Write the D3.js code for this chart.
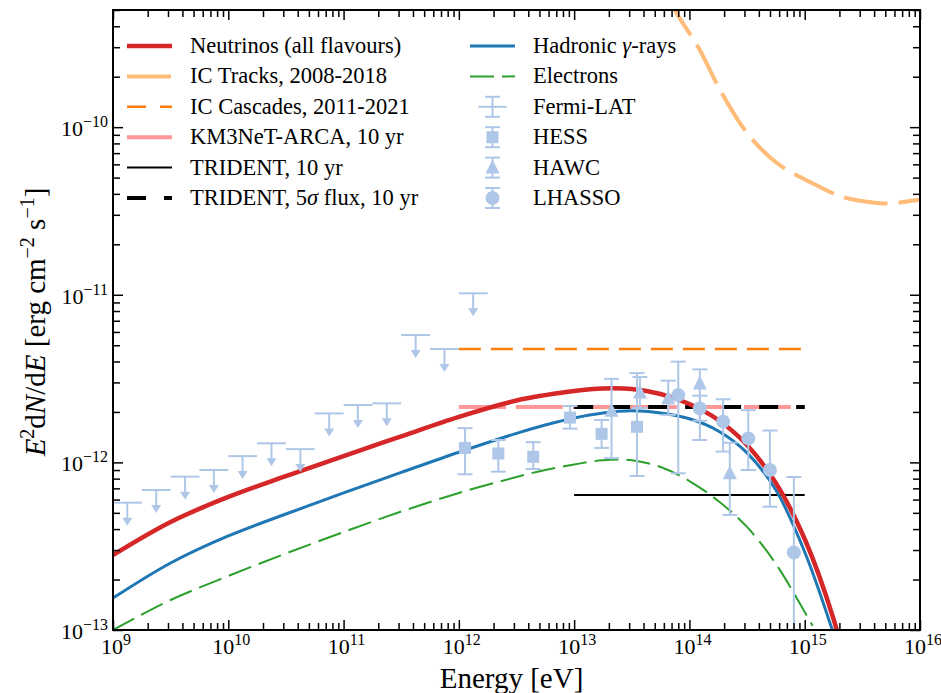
<!DOCTYPE html>
<html>
<head>
<meta charset="utf-8">
<script src="https://cdn.jsdelivr.net/npm/d3@7"></script>
<style>
  body { margin: 0; background: #fff; }
  text { font-family: "Liberation Serif", "DejaVu Serif", serif; fill: #000; }
</style>
</head>
<body>
<svg id="chart" width="941" height="693"></svg>
<script>
// ---------- model spectra (E in eV, E^2 dN/dE in erg cm^-2 s^-1) ----------
const neutrinoE = [1e9, 3.16e9, 1e10, 3.16e10, 1e11, 3.16e11, 1e12, 3.16e12, 5.62e12, 1e13, 1.78e13, 3.16e13, 5.62e13, 1e14, 1.78e14, 3.16e14, 5.62e14, 1e15, 1.78e15, 2.24e15];
const neutrinoF = [2.80e-13, 4.41e-13, 6.22e-13, 8.29e-13, 1.09e-12, 1.43e-12, 1.87e-12, 2.34e-12, 2.52e-12, 2.67e-12, 2.76e-12, 2.74e-12, 2.56e-12, 2.23e-12, 1.79e-12, 1.27e-12, 7.54e-13, 3.49e-13, 1.16e-13, 6.3e-14];

const hadronicE = [1e9, 3.16e9, 1e10, 3.16e10, 1e11, 3.16e11, 1e12, 3.16e12, 5.62e12, 1e13, 1.78e13, 3.16e13, 5.62e13, 1e14, 1.78e14, 3.16e14, 5.62e14, 1e15, 1.78e15, 2.24e15];
const hadronicF = [1.55e-13, 2.51e-13, 3.64e-13, 4.92e-13, 6.57e-13, 8.71e-13, 1.15e-12, 1.49e-12, 1.67e-12, 1.84e-12, 1.97e-12, 2.03e-12, 1.97e-12, 1.82e-12, 1.54e-12, 1.14e-12, 6.84e-13, 2.92e-13, 9.46e-14, 5.6e-14];

const electronE = [1e9, 3.16e9, 1e10, 3.16e10, 1e11, 3.16e11, 1e12, 3.16e12, 5.62e12, 1e13, 1.78e13, 3.16e13, 5.62e13, 1e14, 1.78e14, 3.16e14, 5.62e14, 1e15, 1.17e15];
const electronF = [1.0e-13, 1.51e-13, 2.10e-13, 2.86e-13, 3.84e-13, 5.09e-13, 6.57e-13, 8.18e-13, 9.01e-13, 9.72e-13, 1.03e-12, 1.03e-12, 9.39e-13, 7.74e-13, 5.88e-13, 4.12e-13, 2.48e-13, 1.28e-13, 1.06e-13];

const icTracksE = [6.8e13, 7.5e13, 1.23e14, 1.84e14, 3.16e14, 5.74e14, 1.11e15, 2.14e15, 4.23e15, 5.82e15, 9.5e15, 1e16];
const icTracksF = [6.0e-10, 5.0e-10, 2.89e-10, 1.67e-10, 9.23e-11, 6.11e-11, 4.71e-11, 3.83e-11, 3.53e-11, 3.51e-11, 3.68e-11, 3.7e-11];

// ---------- flat sensitivities / limits ----------
const icCascades = { Emin: 1e12, Emax: 1e15, F: 4.75e-12 };
const km3net     = { Emin: 1e12, Emax: 1e15, F: 2.14e-12 };
const trident    = { Emin: 1e13, Emax: 1e15, F: 6.39e-13 };
const trident5s  = { Emin: 1e13, Emax: 1e15, F: 2.14e-12 };

// ---------- gamma-ray data ----------
const fermiE    = [1.33e9, 2.37e9, 4.22e9, 7.50e9, 1.33e10, 2.37e10, 4.22e10, 7.50e10, 1.33e11, 2.37e11, 4.22e11, 7.50e11, 1.33e12];
const fermiEmin = [1.00e9, 1.78e9, 3.16e9, 5.62e9, 1.00e10, 1.78e10, 3.16e10, 5.62e10, 1.00e11, 1.78e11, 3.16e11, 5.62e11, 1.00e12];
const fermiEmax = [1.78e9, 3.16e9, 5.62e9, 1.00e10, 1.78e10, 3.16e10, 5.62e10, 1.00e11, 1.78e11, 3.16e11, 5.62e11, 1.00e12, 1.78e12];
const fermiUL   = [5.75e-13, 6.84e-13, 8.22e-13, 9.01e-13, 1.09e-12, 1.30e-12, 1.20e-12, 1.96e-12, 2.20e-12, 2.25e-12, 5.75e-12, 4.75e-12, 1.02e-11];

const hessE  = [1.13e12, 2.20e12, 4.42e12, 9.2e12, 1.73e13, 3.51e13];
const hessF  = [1.22e-12, 1.13e-12, 1.08e-12, 1.85e-12, 1.48e-12, 1.63e-12];
const hessHi = [1.60e-12, 1.36e-12, 1.32e-12, 2.17e-12, 1.79e-12, 3.41e-12];
const hessLo = [8.49e-13, 8.80e-13, 9.13e-13, 1.59e-12, 1.22e-12, 8.30e-13];

const hawcE  = [2.11e13, 3.72e13, 6.55e13, 1.23e14, 2.24e14];
const hawcF  = [2.03e-12, 2.61e-12, 2.41e-12, 2.96e-12, 8.61e-13];
const hawcHi = [3.15e-12, 3.23e-12, 3.07e-12, 3.59e-12, 1.31e-12];
const hawcLo = [1.06e-12, 2.11e-12, 1.92e-12, 1.36e-12, 4.86e-13];

const lhaasoE  = [8.0e13, 1.23e14, 1.96e14, 3.24e14, 4.99e14, 8.05e14];
const lhaasoF  = [2.52e-12, 2.10e-12, 1.75e-12, 1.39e-12, 9.01e-13, 2.90e-13];
const lhaasoHi = [3.99e-12, 2.50e-12, 2.38e-12, 2.05e-12, 1.55e-12, 8.18e-13];
const lhaasoLo = [8.61e-13, 1.77e-12, 1.16e-12, 9.01e-13, 5.44e-13, 1e-14];

// ---------- axis ticks ----------
const xMajorExp = [9, 10, 11, 12, 13, 14, 15, 16];
const yMajorExp = [-13, -12, -11, -10];

// ---------- colours ----------
const C = {
  red: "#d62728", blue: "#1f77b4", green: "#2ca02c",
  tracks: "#ffbb78", cascades: "#ff7f0e", km3: "#ff9896",
  data: "#aec7e8", black: "#000"
};

const M = { left: 113, right: 920, top: 10, bottom: 630 };

const svg = d3.select("#chart");
const x = d3.scaleLog().domain([1e9, 1e16]).range([M.left, M.right]);
const y = d3.scaleLog().domain([1e-13, 5e-10]).range([M.bottom, M.top]);

svg.append("defs").append("clipPath").attr("id", "plotClip")
  .append("rect").attr("x", M.left).attr("y", M.top)
  .attr("width", M.right - M.left).attr("height", M.bottom - M.top);

const plot = svg.append("g").attr("clip-path", "url(#plotClip)");

const line = d3.line().x(d => x(d[0])).y(d => y(d[1])).curve(d3.curveCatmullRom.alpha(0.5));
const zip = (a, b) => a.map((v, i) => [v, b[i]]);

// flat limits
function flat(o, color, width, dash) {
  plot.append("line")
    .attr("x1", x(o.Emin)).attr("x2", x(o.Emax))
    .attr("y1", y(o.F)).attr("y2", y(o.F))
    .attr("stroke", color).attr("stroke-width", width)
    .attr("stroke-dasharray", dash || null);
}
flat(icCascades, C.cascades, 2.5, "22,10");
flat(km3net, C.km3, 4, "47,10");
flat(trident, C.black, 2, null);
flat(trident5s, C.black, 4, "19,18");

// spectra
plot.append("path").datum(zip(icTracksE, icTracksF)).attr("d", line)
  .attr("fill", "none").attr("stroke", C.tracks).attr("stroke-width", 4).attr("stroke-dasharray", "44,11");
plot.append("path").datum(zip(electronE, electronF)).attr("d", line)
  .attr("fill", "none").attr("stroke", C.green).attr("stroke-width", 2).attr("stroke-dasharray", "24,8");
plot.append("path").datum(zip(hadronicE, hadronicF)).attr("d", line)
  .attr("fill", "none").attr("stroke", C.blue).attr("stroke-width", 3);
plot.append("path").datum(zip(neutrinoE, neutrinoF)).attr("d", line)
  .attr("fill", "none").attr("stroke", C.red).attr("stroke-width", 4.5);

// ---------- data markers ----------
const capW = 7.5, ew = 2;
function errBar(g, px, yHi, yLo) {
  g.append("line").attr("x1", px).attr("x2", px).attr("y1", yHi).attr("y2", yLo)
    .attr("stroke", C.data).attr("stroke-width", ew);
  [yHi, yLo].forEach(v => g.append("line").attr("x1", px - capW).attr("x2", px + capW)
    .attr("y1", v).attr("y2", v).attr("stroke", C.data).attr("stroke-width", ew));
}
function marker(g, kind, px, py) {
  if (kind === "square") {
    g.append("rect").attr("x", px - 6).attr("y", py - 6).attr("width", 12).attr("height", 12).attr("fill", C.data);
  } else if (kind === "circle") {
    g.append("circle").attr("cx", px).attr("cy", py).attr("r", 7).attr("fill", C.data);
  } else if (kind === "triangle") {
    g.append("path").attr("d", `M${px},${py - 8}L${px + 7},${py + 6}L${px - 7},${py + 6}Z`).attr("fill", C.data);
  }
}
function dataset(E, F, Hi, Lo, kind) {
  const g = plot.append("g");
  E.forEach((e, i) => {
    errBar(g, x(e), y(Hi[i]), y(Lo[i]));
    marker(g, kind, x(e), y(F[i]));
  });
}

// Fermi-LAT upper limits: energy-bin bar with a downward arrow
const ulLen = 23;
function upperLimit(g, px, x0, x1, py) {
  g.append("line").attr("x1", x0).attr("x2", x1).attr("y1", py).attr("y2", py)
    .attr("stroke", C.data).attr("stroke-width", ew);
  g.append("line").attr("x1", px).attr("x2", px).attr("y1", py).attr("y2", py + ulLen - 6)
    .attr("stroke", C.data).attr("stroke-width", ew);
  g.append("path").attr("d", `M${px - 5},${py + ulLen - 8}L${px + 5},${py + ulLen - 8}L${px},${py + ulLen}Z`)
    .attr("fill", C.data);
}
const fermiG = plot.append("g");
fermiE.forEach((e, i) => upperLimit(fermiG, x(e), x(fermiEmin[i]), x(fermiEmax[i]), y(fermiUL[i])));

dataset(hessE, hessF, hessHi, hessLo, "square");
dataset(hawcE, hawcF, hawcHi, hawcLo, "triangle");
dataset(lhaasoE, lhaasoF, lhaasoHi, lhaasoLo, "circle");

// ---------- axes frame and ticks ----------
const majorLen = 10, minorLen = 7;
const xMajor = xMajorExp.map(p => Math.pow(10, p));
const xMinor = [];
xMajorExp.slice(0, -1).forEach(p => { for (let k = 2; k <= 9; k++) xMinor.push(k * Math.pow(10, p)); });
const yMajor = yMajorExp.map(p => Math.pow(10, p));
const yMinor = [];
yMajorExp.forEach(p => { for (let k = 2; k <= 9; k++) { const v = k * Math.pow(10, p); if (v <= 5e-10) yMinor.push(v); } });

function axisTicks(axisFn, scale, vals, len, transform) {
  svg.append("g").attr("transform", transform)
    .call(axisFn(scale).tickValues(vals).tickSize(len).tickFormat(""))
    .call(g => g.select(".domain").remove())
    .call(g => g.selectAll("line").attr("stroke", "#000").attr("stroke-width", 1.5));
}
axisTicks(d3.axisBottom, x, xMajor, -majorLen, `translate(0,${M.bottom})`);
axisTicks(d3.axisBottom, x, xMinor, -minorLen, `translate(0,${M.bottom})`);
axisTicks(d3.axisTop, x, xMajor, -majorLen, `translate(0,${M.top})`);
axisTicks(d3.axisTop, x, xMinor, -minorLen, `translate(0,${M.top})`);
axisTicks(d3.axisLeft, y, yMajor, -majorLen, `translate(${M.left},0)`);
axisTicks(d3.axisLeft, y, yMinor, -minorLen, `translate(${M.left},0)`);
axisTicks(d3.axisRight, y, yMajor, -majorLen, `translate(${M.right},0)`);
axisTicks(d3.axisRight, y, yMinor, -minorLen, `translate(${M.right},0)`);

svg.append("rect").attr("x", M.left).attr("y", M.top)
  .attr("width", M.right - M.left).attr("height", M.bottom - M.top)
  .attr("fill", "none").attr("stroke", "#000").attr("stroke-width", 2);

// tick labels written as 10^n
const tickFont = 22, supFont = 16;
function powLabel(px, py, exp, anchor) {
  const t = svg.append("text").attr("x", px).attr("y", py)
    .attr("text-anchor", anchor).attr("font-size", tickFont);
  t.append("tspan").text("10");
  t.append("tspan").attr("dy", -9).attr("font-size", supFont)
    .text(exp < 0 ? "\u2212" + Math.abs(exp) : String(exp));
}
xMajorExp.forEach(p => powLabel(x(Math.pow(10, p)) + 3, M.bottom + 24, p, "middle"));
yMajorExp.forEach(p => powLabel(M.left - 5, y(Math.pow(10, p)) + 9, p, "end"));

// axis titles
const titleFont = 29, titleSup = 20;
svg.append("text").attr("x", (M.left + M.right) / 2 - 5).attr("y", 688)
  .attr("text-anchor", "middle").attr("font-size", titleFont).text("Energy [eV]");

const yt = svg.append("text")
  .attr("transform", `translate(45,${(M.top + M.bottom) / 2 + 2}) rotate(-90)`)
  .attr("text-anchor", "middle").attr("font-size", titleFont);
yt.append("tspan").attr("font-style", "italic").text("E");
yt.append("tspan").attr("dy", -11).attr("font-size", titleSup).text("2");
yt.append("tspan").attr("dy", 11).text("d");
yt.append("tspan").attr("font-style", "italic").text("N");
yt.append("tspan").text("/d");
yt.append("tspan").attr("font-style", "italic").text("E");
yt.append("tspan").text(" [erg cm");
yt.append("tspan").attr("dy", -11).attr("font-size", titleSup).text("\u22122");
yt.append("tspan").attr("dy", 11).text(" s");
yt.append("tspan").attr("dy", -11).attr("font-size", titleSup).text("\u22121");
yt.append("tspan").attr("dy", 11).text("]");

// ---------- legend ----------
const legendFont = 22.5;
const rowY = i => 46 + 30.4 * i;
const leftCol = { x0: 127, x1: 172, tx: 190 };
const rightCol = { x0: 470, x1: 515, tx: 533 };
const leg = svg.append("g");

function legLine(col, i, color, width, dash) {
  leg.append("line").attr("x1", col.x0).attr("x2", col.x1).attr("y1", rowY(i)).attr("y2", rowY(i))
    .attr("stroke", color).attr("stroke-width", width).attr("stroke-dasharray", dash || null);
}
function legText(col, i, parts) {
  const t = leg.append("text").attr("x", col.tx).attr("y", rowY(i) + 7).attr("font-size", legendFont);
  parts.forEach(p => {
    const s = t.append("tspan").text(p.t);
    if (p.i) s.attr("font-style", "italic");
  });
}
legLine(leftCol, 0, C.red, 4.5);
legText(leftCol, 0, [{ t: "Neutrinos (all flavours)" }]);
legLine(leftCol, 1, C.tracks, 4, "44,11");
legText(leftCol, 1, [{ t: "IC Tracks, 2008-2018" }]);
legLine(leftCol, 2, C.cascades, 2.5, "19,14");
legText(leftCol, 2, [{ t: "IC Cascades, 2011-2021" }]);
legLine(leftCol, 3, C.km3, 4, "47,10");
legText(leftCol, 3, [{ t: "KM3NeT-ARCA, 10 yr" }]);
legLine(leftCol, 4, C.black, 2);
legText(leftCol, 4, [{ t: "TRIDENT, 10 yr" }]);
legLine(leftCol, 5, C.black, 4, "19,18");
legText(leftCol, 5, [{ t: "TRIDENT, 5" }, { t: "\u03c3", i: true }, { t: " flux, 10 yr" }]);

legLine(rightCol, 0, C.blue, 3);
legText(rightCol, 0, [{ t: "Hadronic " }, { t: "\u03b3", i: true }, { t: "-rays" }]);
legLine(rightCol, 1, C.green, 2, "24,8");
legText(rightCol, 1, [{ t: "Electrons" }]);

const cx = (rightCol.x0 + rightCol.x1) / 2;
// Fermi-LAT glyph: horizontal bin bar crossed by a capped vertical bar
leg.append("line").attr("x1", cx - 14).attr("x2", cx + 14).attr("y1", rowY(2)).attr("y2", rowY(2))
  .attr("stroke", C.data).attr("stroke-width", ew);
errBar(leg, cx, rowY(2) - 10, rowY(2) + 10);
legText(rightCol, 2, [{ t: "Fermi-LAT" }]);
errBar(leg, cx, rowY(3) - 10, rowY(3) + 10);
marker(leg, "square", cx, rowY(3));
legText(rightCol, 3, [{ t: "HESS" }]);
errBar(leg, cx, rowY(4) - 10, rowY(4) + 10);
marker(leg, "triangle", cx, rowY(4));
legText(rightCol, 4, [{ t: "HAWC" }]);
errBar(leg, cx, rowY(5) - 10, rowY(5) + 10);
marker(leg, "circle", cx, rowY(5));
legText(rightCol, 5, [{ t: "LHASSO" }]);
</script>
</body>
</html>
